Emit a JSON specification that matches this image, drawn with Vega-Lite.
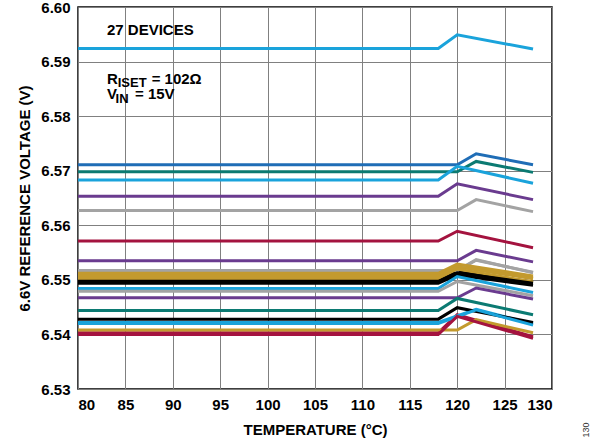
{
  "$schema": "https://vega.github.io/schema/vega-lite/v6.json",
  "width": 474,
  "height": 382,
  "autosize": {"type": "none"},
  "padding": {"left": 78, "top": 7, "right": 48, "bottom": 57},
  "background": "white",
  "config": {
    "view": {"stroke": "#000000", "strokeWidth": 1.5},
    "font": "Liberation Sans",
    "axis": {
      "grid": true,
      "gridColor": "#808080",
      "gridWidth": 1,
      "ticks": false,
      "domain": false,
      "labelFont": "Liberation Sans",
      "labelFontWeight": "bold",
      "labelFontSize": 15,
      "labelColor": "#000000",
      "titleFont": "Liberation Sans",
      "titleFontWeight": "bold",
      "titleFontSize": 15,
      "titleColor": "#000000",
      "labelPadding": 8
    }
  },
  "layer": [
    {
      "data": {
        "values": [
          {"d": "D01", "t": 80, "v": 6.5403}, {"d": "D01", "t": 118, "v": 6.5403}, {"d": "D01", "t": 120, "v": 6.5436}, {"d": "D01", "t": 128, "v": 6.5396},
          {"d": "D02", "t": 80, "v": 6.5499}, {"d": "D02", "t": 118, "v": 6.5499}, {"d": "D02", "t": 120, "v": 6.5515}, {"d": "D02", "t": 128, "v": 6.5496},
          {"d": "D03", "t": 80, "v": 6.5509}, {"d": "D03", "t": 118, "v": 6.5509}, {"d": "D03", "t": 120, "v": 6.5526}, {"d": "D03", "t": 128, "v": 6.5504},
          {"d": "D04", "t": 80, "v": 6.5422}, {"d": "D04", "t": 118, "v": 6.5422}, {"d": "D04", "t": 122, "v": 6.5446}, {"d": "D04", "t": 128, "v": 6.5419},
          {"d": "D05", "t": 80, "v": 6.5517}, {"d": "D05", "t": 120, "v": 6.5517}, {"d": "D05", "t": 122, "v": 6.5536}, {"d": "D05", "t": 128, "v": 6.5514},
          {"d": "D06", "t": 80, "v": 6.5924}, {"d": "D06", "t": 118, "v": 6.5924}, {"d": "D06", "t": 120, "v": 6.5949}, {"d": "D06", "t": 128, "v": 6.5923},
          {"d": "D07", "t": 80, "v": 6.5711}, {"d": "D07", "t": 120, "v": 6.5711}, {"d": "D07", "t": 122, "v": 6.5731}, {"d": "D07", "t": 128, "v": 6.5711},
          {"d": "D08", "t": 80, "v": 6.5698}, {"d": "D08", "t": 120, "v": 6.5698}, {"d": "D08", "t": 122, "v": 6.5717}, {"d": "D08", "t": 128, "v": 6.5697},
          {"d": "D09", "t": 80, "v": 6.5683}, {"d": "D09", "t": 118, "v": 6.5683}, {"d": "D09", "t": 120, "v": 6.5708}, {"d": "D09", "t": 128, "v": 6.5677},
          {"d": "D10", "t": 80, "v": 6.5653}, {"d": "D10", "t": 118, "v": 6.5653}, {"d": "D10", "t": 120, "v": 6.5676}, {"d": "D10", "t": 128, "v": 6.5647},
          {"d": "D11", "t": 80, "v": 6.5627}, {"d": "D11", "t": 120, "v": 6.5627}, {"d": "D11", "t": 122, "v": 6.5647}, {"d": "D11", "t": 128, "v": 6.5625},
          {"d": "D12", "t": 80, "v": 6.5571}, {"d": "D12", "t": 118, "v": 6.5571}, {"d": "D12", "t": 120, "v": 6.5589}, {"d": "D12", "t": 128, "v": 6.5559},
          {"d": "D13", "t": 80, "v": 6.5535}, {"d": "D13", "t": 120, "v": 6.5535}, {"d": "D13", "t": 122, "v": 6.5554}, {"d": "D13", "t": 128, "v": 6.5533},
          {"d": "D14", "t": 80, "v": 6.5517}, {"d": "D14", "t": 120, "v": 6.5517}, {"d": "D14", "t": 122, "v": 6.5537}, {"d": "D14", "t": 128, "v": 6.5513},
          {"d": "D15", "t": 80, "v": 6.5512}, {"d": "D15", "t": 118, "v": 6.5512}, {"d": "D15", "t": 120, "v": 6.5529}, {"d": "D15", "t": 128, "v": 6.5507},
          {"d": "D16", "t": 80, "v": 6.5507}, {"d": "D16", "t": 118, "v": 6.5507}, {"d": "D16", "t": 120, "v": 6.5524}, {"d": "D16", "t": 128, "v": 6.5502},
          {"d": "D17", "t": 80, "v": 6.5503}, {"d": "D17", "t": 118, "v": 6.5503}, {"d": "D17", "t": 120, "v": 6.5520}, {"d": "D17", "t": 128, "v": 6.5496},
          {"d": "D18", "t": 80, "v": 6.5497}, {"d": "D18", "t": 118, "v": 6.5497}, {"d": "D18", "t": 120, "v": 6.5513}, {"d": "D18", "t": 128, "v": 6.5494},
          {"d": "D19", "t": 80, "v": 6.5494}, {"d": "D19", "t": 118, "v": 6.5494}, {"d": "D19", "t": 120, "v": 6.5509}, {"d": "D19", "t": 128, "v": 6.5490},
          {"d": "D20", "t": 80, "v": 6.5484}, {"d": "D20", "t": 118, "v": 6.5484}, {"d": "D20", "t": 120, "v": 6.5506}, {"d": "D20", "t": 128, "v": 6.5477},
          {"d": "D21", "t": 80, "v": 6.5479}, {"d": "D21", "t": 118, "v": 6.5479}, {"d": "D21", "t": 120, "v": 6.5497}, {"d": "D21", "t": 128, "v": 6.5471},
          {"d": "D22", "t": 80, "v": 6.5467}, {"d": "D22", "t": 120, "v": 6.5467}, {"d": "D22", "t": 122, "v": 6.5485}, {"d": "D22", "t": 128, "v": 6.5465},
          {"d": "D23", "t": 80, "v": 6.5444}, {"d": "D23", "t": 118, "v": 6.5444}, {"d": "D23", "t": 120, "v": 6.5466}, {"d": "D23", "t": 128, "v": 6.5436},
          {"d": "D24", "t": 80, "v": 6.5428}, {"d": "D24", "t": 118, "v": 6.5428}, {"d": "D24", "t": 120, "v": 6.5449}, {"d": "D24", "t": 128, "v": 6.5422},
          {"d": "D25", "t": 80, "v": 6.5420}, {"d": "D25", "t": 118, "v": 6.5420}, {"d": "D25", "t": 122, "v": 6.5445}, {"d": "D25", "t": 128, "v": 6.5417},
          {"d": "D26", "t": 80, "v": 6.5408}, {"d": "D26", "t": 120, "v": 6.5408}, {"d": "D26", "t": 122, "v": 6.5427}, {"d": "D26", "t": 128, "v": 6.5403},
          {"d": "D27", "t": 80, "v": 6.5400}, {"d": "D27", "t": 118, "v": 6.5400}, {"d": "D27", "t": 120, "v": 6.5433}, {"d": "D27", "t": 128, "v": 6.5393}
        ]
      },
      "mark": {"type": "line", "strokeWidth": 3, "strokeJoin": "miter", "strokeCap": "butt"},
      "encoding": {
        "x": {
          "field": "t", "type": "quantitative",
          "scale": {"domain": [80, 130], "nice": false, "zero": false},
          "axis": {"values": [80, 85, 90, 95, 100, 105, 110, 115, 120, 125, 130], "title": "TEMPERATURE (°C)", "titlePadding": 10}
        },
        "y": {
          "field": "v", "type": "quantitative",
          "scale": {"domain": [6.53, 6.60], "nice": false, "zero": false},
          "axis": {"values": [6.53, 6.54, 6.55, 6.56, 6.57, 6.58, 6.59, 6.60], "format": ".2f", "title": "6.6V REFERENCE VOLTAGE (V)", "titlePadding": 8}
        },
        "color": {
          "field": "d", "type": "nominal", "legend": null,
          "scale": {
            "domain": ["D01","D02","D03","D04","D05","D06","D07","D08","D09","D10","D11","D12","D13","D14","D15","D16","D17","D18","D19","D20","D21","D22","D23","D24","D25","D26","D27"],
            "range": ["#A4133F","#000000","#C39A2E","#1AA3DB","#A3A3A3","#1AA3DB","#1F6DB6","#0B7A72","#1AA3DB","#6A3B8F","#A3A3A3","#A4133F","#6A3B8F","#A3A3A3","#C39A2E","#C39A2E","#C39A2E","#000000","#000000","#1AA3DB","#A3A3A3","#6A3B8F","#0B7A72","#000000","#1AA3DB","#C39A2E","#A4133F"]
          }
        }
      }
    },
    {
      "data": {"values": [
        {"t": 83.06, "v": 6.59578, "label": "27 DEVICES"},
        {"t": 83.06, "v": 6.58680, "label": "R"},
        {"t": 87.77, "v": 6.58680, "label": "= 102Ω"},
        {"t": 83.06, "v": 6.58410, "label": "V"},
        {"t": 86.01, "v": 6.58410, "label": "= 15V"}
      ]},
      "mark": {"type": "text", "align": "left", "baseline": "middle", "fontSize": 15, "fontWeight": "bold", "font": "Liberation Sans", "color": "#000000"},
      "encoding": {
        "x": {"field": "t", "type": "quantitative"},
        "y": {"field": "v", "type": "quantitative"},
        "text": {"field": "label"}
      }
    },
    {
      "data": {"values": [
        {"t": 84.19, "v": 6.58605, "label": "ISET"},
        {"t": 83.96, "v": 6.58315, "label": "IN"}
      ]},
      "mark": {"type": "text", "align": "left", "baseline": "middle", "fontSize": 13, "fontWeight": "bold", "font": "Liberation Sans", "color": "#000000"},
      "encoding": {
        "x": {"field": "t", "type": "quantitative"},
        "y": {"field": "v", "type": "quantitative"},
        "text": {"field": "label"}
      }
    },
    {
      "data": {"values": [
        {"t": 133.59, "v": 6.52248, "label": "130"}
      ]},
      "mark": {"type": "text", "align": "center", "baseline": "middle", "angle": 270, "fontSize": 9, "font": "Liberation Sans", "color": "#333333"},
      "encoding": {
        "x": {"field": "t", "type": "quantitative"},
        "y": {"field": "v", "type": "quantitative"},
        "text": {"field": "label"}
      }
    }
  ]
}
